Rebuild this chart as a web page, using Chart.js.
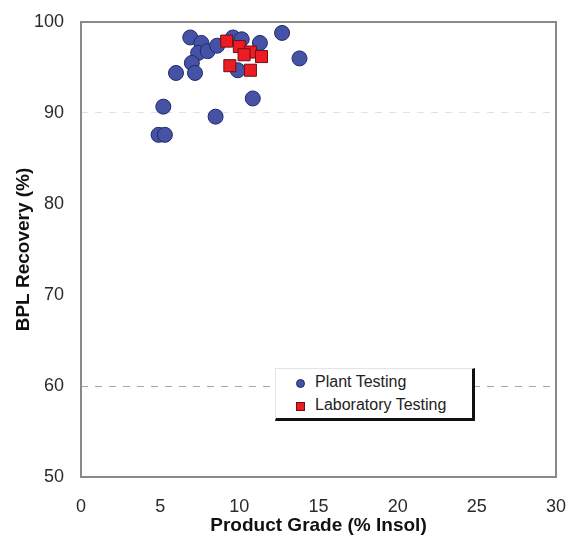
<!DOCTYPE html>
<html>
<head>
<meta charset="utf-8">
<script src="https://cdn.jsdelivr.net/npm/chart.js@4/dist/chart.umd.min.js"></script>
<style>
  html, body { margin: 0; padding: 0; background: #fff; }
  #wrap { position: relative; width: 569px; height: 540px; font-family: "Liberation Sans", Arial, sans-serif; }
  #legend {
    position: absolute; left: 275px; top: 368px; width: 200px; height: 53px;
    box-sizing: border-box; background: #fff;
    border-top: 1px solid #e4e4e4; border-left: 1px solid #e4e4e4;
    border-right: 3px solid #111; border-bottom: 3px solid #111;
    font-size: 16px; color: #222;
  }
  #legend .row { position: absolute; left: 20px; height: 20px; line-height: 20px; white-space: nowrap; }
  #legend .mk { display: inline-block; width: 9px; height: 9px; margin-right: 10px; vertical-align: -1px; box-sizing: border-box; }
</style>
</head>
<body>
<div id="wrap">
  <canvas id="chart" width="569" height="540"></canvas>
  <div id="legend"></div>
</div>
<script>
const seriesNames = ["Plant Testing", "Laboratory Testing"];

// product grade (% insol) / BPL recovery (%)
const plantGrade = [6.9, 7.6, 7.4, 8.0, 7.0, 6.0, 7.2, 8.6, 9.6, 10.15, 11.3, 9.9, 12.7, 13.8, 5.2, 4.9, 5.3, 8.5, 10.85];
const plantRecovery = [98.3, 97.7, 96.6, 96.8, 95.5, 94.4, 94.4, 97.4, 98.3, 98.1, 97.7, 94.7, 98.8, 96.0, 90.7, 87.6, 87.6, 89.6, 91.6];

const labGrade = [9.2, 10.0, 10.7, 11.4, 9.4, 10.7, 10.3];
const labRecovery = [97.9, 97.3, 96.7, 96.2, 95.2, 94.7, 96.4];

const xTicks = [0, 5, 10, 15, 20, 25, 30];
const yTicks = [50, 60, 70, 80, 90, 100];

const toPoints = (xs, ys) => xs.map((x, i) => ({ x, y: ys[i] }));

const frame = {
  id: "frame",
  beforeDatasetsDraw(chart) {
    const { ctx, chartArea: a } = chart;
    ctx.save();
    ctx.strokeStyle = "#8a8a8a";
    ctx.lineWidth = 2;
    ctx.strokeRect(a.left, a.top, a.right - a.left, a.bottom - a.top);
    ctx.restore();
  }
};

const tickFont = { family: "'Liberation Sans', Arial, sans-serif", size: 18 };
const titleFont = { family: "'Liberation Sans', Arial, sans-serif", size: 19, weight: "bold" };

new Chart(document.getElementById("chart"), {
  type: "scatter",
  data: {
    datasets: [
      {
        label: seriesNames[0],
        data: toPoints(plantGrade, plantRecovery),
        pointStyle: "circle",
        pointRadius: 7.5,
        pointHoverRadius: 7.5,
        backgroundColor: "#4652a6",
        borderColor: "#202a68",
        borderWidth: 1,
        order: 1
      },
      {
        label: seriesNames[1],
        data: toPoints(labGrade, labRecovery),
        pointStyle: "rect",
        pointRadius: 8.5,
        pointHoverRadius: 8.5,
        backgroundColor: "#ec1b24",
        borderColor: "#6e1010",
        borderWidth: 1,
        order: 0
      }
    ]
  },
  options: {
    responsive: false,
    animation: false,
    layout: { padding: { top: 22, right: 13, left: 0, bottom: 0 } },
    plugins: { legend: { display: false }, tooltip: { enabled: false } },
    scales: {
      x: {
        type: "linear",
        min: 0,
        max: 30,
        afterBuildTicks: (s) => { s.ticks = xTicks.map((v) => ({ value: v })); },
        afterFit: (s) => { s.height = 63; s.paddingLeft = 0; s.paddingRight = 0; },
        grid: { display: false, drawTicks: false },
        border: { display: false },
        ticks: { color: "#2a2a2a", font: tickFont, padding: 19, maxRotation: 0 },
        title: { display: true, text: "Product Grade (% Insol)", color: "#111", font: titleFont, padding: { top: 0, bottom: 3 } }
      },
      y: {
        type: "linear",
        min: 50,
        max: 100,
        afterBuildTicks: (s) => { s.ticks = yTicks.map((v) => ({ value: v })); },
        afterFit: (s) => { s.width = 81; s.paddingTop = 0; s.paddingBottom = 0; },
        grid: {
          drawTicks: false,
          lineWidth: 1,
          color: (c) => (c.tick && c.tick.value === 60 ? "#a8a8a8" : c.tick && c.tick.value === 90 ? "#e2e2e2" : "rgba(0,0,0,0)")
        },
        border: { display: false, dash: [7, 7] },
        ticks: { color: "#2a2a2a", font: tickFont, padding: 17 },
        title: { display: true, text: "BPL Recovery (%)", color: "#111", font: titleFont, padding: { top: 12, bottom: 0 } }
      }
    }
  },
  plugins: [frame]
});

// legend box drawn over the plot, as in the source figure
const legend = document.getElementById("legend");
const swatches = [
  "background:#4652a6;border:1px solid #202a68;border-radius:50%;",
  "background:#ec1b24;border:1px solid #6e1010;"
];
seriesNames.forEach((name, i) => {
  const row = document.createElement("div");
  row.className = "row";
  row.style.top = (i === 0 ? 3 : 26) + "px";
  row.innerHTML = `<span class="mk" style="${swatches[i]}"></span>${name}`;
  legend.appendChild(row);
});
</script>
</body>
</html>
